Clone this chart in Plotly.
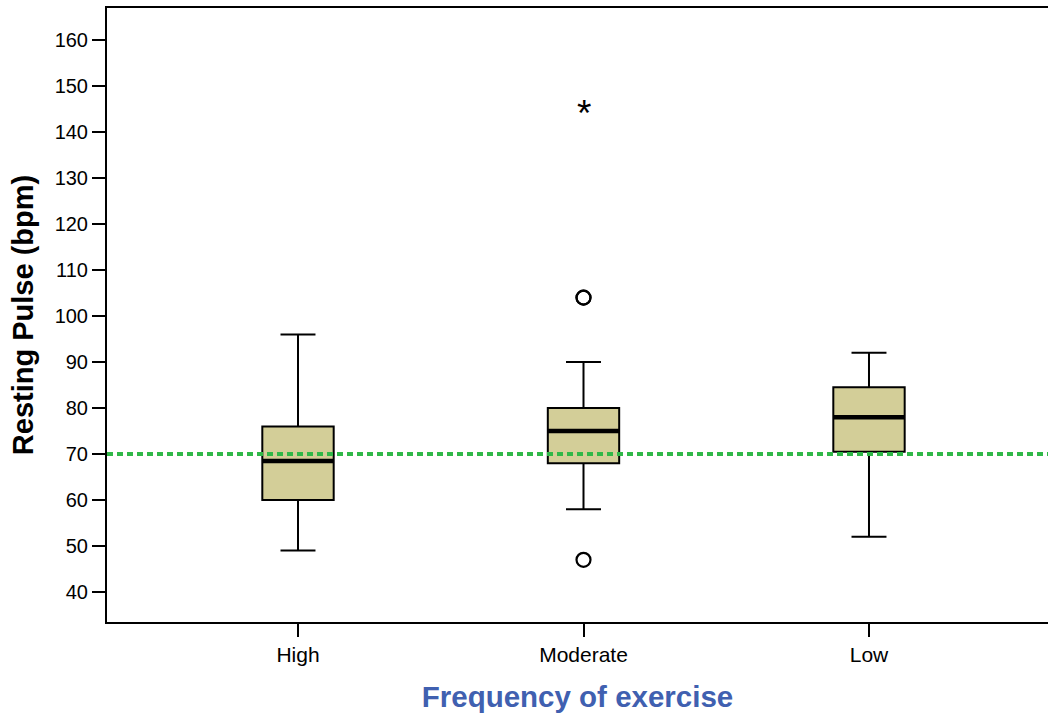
import plotly.graph_objects as go

# ---- data ----
categories = ["High", "Moderate", "Low"]
q1 = [60, 68, 70.5]
median = [68.5, 75, 78]
q3 = [76, 80, 84.5]
lower_whisker = [49, 58, 52]
upper_whisker = [96, 90, 92]
outlier_cat = ["Moderate", "Moderate", "Moderate"]
outlier_val = [104, 104, 47]
extreme_cat = ["Moderate"]
extreme_val = [145]
reference_value = 70
y_ticks = [40, 50, 60, 70, 80, 90, 100, 110, 120, 130, 140, 150, 160]

box_width = 0.25
fill = "#d3ce98"
pos = list(range(len(categories)))
cat_pos = {c: i for i, c in enumerate(categories)}

fig = go.Figure()
for i, c in enumerate(categories):
    fig.add_trace(go.Box(
        x=[pos[i]], q1=[q1[i]], median=[median[i]], q3=[q3[i]],
        lowerfence=[lower_whisker[i]], upperfence=[upper_whisker[i]],
        width=box_width, whiskerwidth=0.49,
        fillcolor=fill, line=dict(color="black", width=2),
        boxpoints=False, showlegend=False, hoverinfo="skip",
    ))
    # thick median line
    fig.add_trace(go.Scatter(
        x=[pos[i] - box_width / 2, pos[i] + box_width / 2],
        y=[median[i], median[i]], mode="lines",
        line=dict(color="black", width=4.5), showlegend=False, hoverinfo="skip",
    ))

fig.add_trace(go.Scatter(
    x=[cat_pos[c] for c in outlier_cat], y=outlier_val, mode="markers",
    marker=dict(symbol="circle-open", size=14, color="black", line=dict(width=2.2)),
    showlegend=False,
))

# extreme values drawn as an asterisk glyph
for c, v in zip(extreme_cat, extreme_val):
    fig.add_annotation(x=cat_pos[c], y=v, xref="x", yref="y", text="*",
                       showarrow=False, yshift=-4,
                       font=dict(size=37, color="black", family="Liberation Sans, Arial"))

fig.add_shape(type="line", xref="paper", yref="y", x0=0, x1=1,
              y0=reference_value, y1=reference_value,
              line=dict(color="#30b848", width=4, dash="6px,4px"))

font_family = "Liberation Sans, Arial, sans-serif"
fig.update_layout(
    width=1048, height=717,
    margin=dict(l=107, r=0, t=8, b=95),
    plot_bgcolor="white", paper_bgcolor="white",
    font=dict(family=font_family, color="black", size=20),
    xaxis=dict(
        range=[-0.669, 2.627], tickvals=pos, ticktext=categories,
        showline=True, linecolor="black", linewidth=2, mirror=True,
        ticks="outside", ticklen=13, tickwidth=2, tickcolor="black",
        showgrid=False, zeroline=False, tickfont=dict(size=21),
        title=dict(text="<b>Frequency of exercise</b>",
                   font=dict(size=29.5, color="#4060b0"), standoff=21),
    ),
    yaxis=dict(
        range=[33.48, 166.96], tickvals=y_ticks,
        showline=True, linecolor="black", linewidth=2,
        ticks="outside", ticklen=13, tickwidth=2, tickcolor="black",
        showgrid=False, zeroline=False, tickfont=dict(size=20),
        title=dict(text="<b>Resting Pulse (bpm)</b>",
                   font=dict(size=29, color="black"), standoff=12),
    ),
)

fig.write_html("out.html", config={"displayModeBar": False},
               post_script="document.body.style.margin='0';document.body.style.overflow='hidden';")
